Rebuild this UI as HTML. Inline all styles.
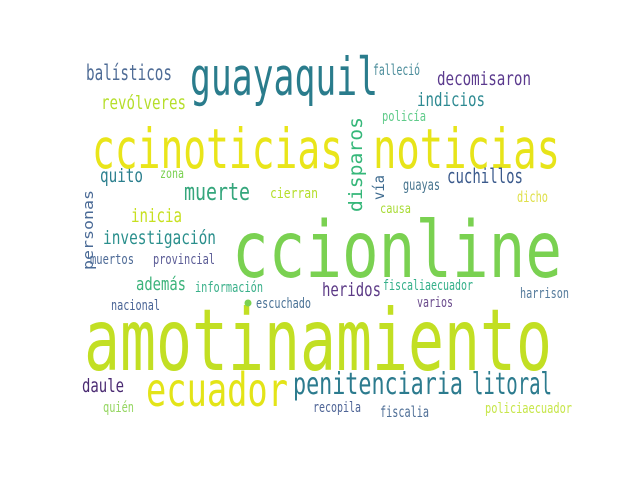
<!DOCTYPE html>
<html><head><meta charset="utf-8"><style>
html,body{margin:0;padding:0;background:#fff;}
svg{display:block;}
text{font-family:"DejaVu Sans Mono","Liberation Mono",monospace;}
</style></head><body>
<svg width="640" height="480" viewBox="0 0 640 480">
<rect width="640" height="480" fill="#fff"/>
<g id="words"></g>
<circle cx="248" cy="303" r="3.5" fill="#7ad151"/>
</svg>
<script>
// word, left x, baseline y, width, font size, color, vertical
const words = ["amotinamiento","ccionline","ccinoticias","noticias","guayaquil","ecuador","penitenciaria","litoral","balísticos","falleció","decomisaron","indicios","revólveres","policía","quito","zona","muerte","cierran","guayas","cuchillos","dicho","causa","inicia","investigación","muertos","provincial","además","información","nacional","escuchado","heridos","fiscaliaecuador","varios","harrison","daule","quién","recopila","fiscalia","policiaecuador","disparos","vía","personas"];
const xs = [84,232,92,373,190,146,293,472,86,373,437,417,101,382,100,160,184,270,403,447,517,380,131,103,90,153,136,195,111,256,322,383,417,520,82,103,313,380,485,362,384,93];
const ys = [370,277,168,168,95,406,394,394,80,75,85,106,109,121,182,178,200,198,190,183,202,213,222,244,264,264,290,292,310,308,296,290,307,298,392,412,412,417,413,212,200,270];
const ws = [468,330,251,187,188,142,170,80,86,47,94,68,85,44,43,24,66,48,37,76,31,31,51,113,44,62,50,68,49,55,59,90,36,49,42,31,48,49,87,95,25,80];
const fs = [86,78,55,55,53,46,30,30,21,15,19,19,19,14,19,13,24,14,15,20,15,13,19,19,14,14,18,14,14,14,19,14,14,14,19,14,14,15,14,19,15,14];
const cols = ["#c2df23","#7ad151","#e9e51a","#e7e419","#2a7c8c","#e3e418","#2c7b8e","#2c7b8e","#4f6c96","#4a8c9a","#5b3a8e","#2e8a92","#b5de2b","#5fcb8a","#2b7f8e","#7ad151","#35a67c","#b5de2b","#46748e","#3b5a8c","#dfe04a","#a8db34","#c7e020","#2a8f8c","#4d6a96","#5b5c96","#3bb37a","#3ab08a","#4a6596","#4a7296","#5c3a86","#35b08a","#6a4a8c","#557b9c","#4a2a72","#95d661","#4e6496","#4e6e96","#c7e64a","#35b779","#3f6b8f","#4a6a96"];
const vert = [0,0,0,0,0,0,0,0,0,0,0,0,0,0,0,0,0,0,0,0,0,0,0,0,0,0,0,0,0,0,0,0,0,0,0,0,0,0,0,1,1,1];
const g = document.getElementById('words');
const NS = "http://www.w3.org/2000/svg";
for (let i = 0; i < words.length; i++) {
  const t = document.createElementNS(NS, 'text');
  
  
  t.setAttribute('x', xs[i]);
  t.setAttribute('y', ys[i]);
  t.setAttribute('font-size', fs[i]);
  t.setAttribute('fill', cols[i]);
  t.setAttribute('textLength', ws[i]);
  t.setAttribute('lengthAdjust', 'spacingAndGlyphs');
  if (vert[i]) t.setAttribute('transform', 'rotate(-90 ' + xs[i] + ' ' + ys[i] + ')');
  t.textContent = words[i];
  g.appendChild(t);
}
</script>
</body></html>
